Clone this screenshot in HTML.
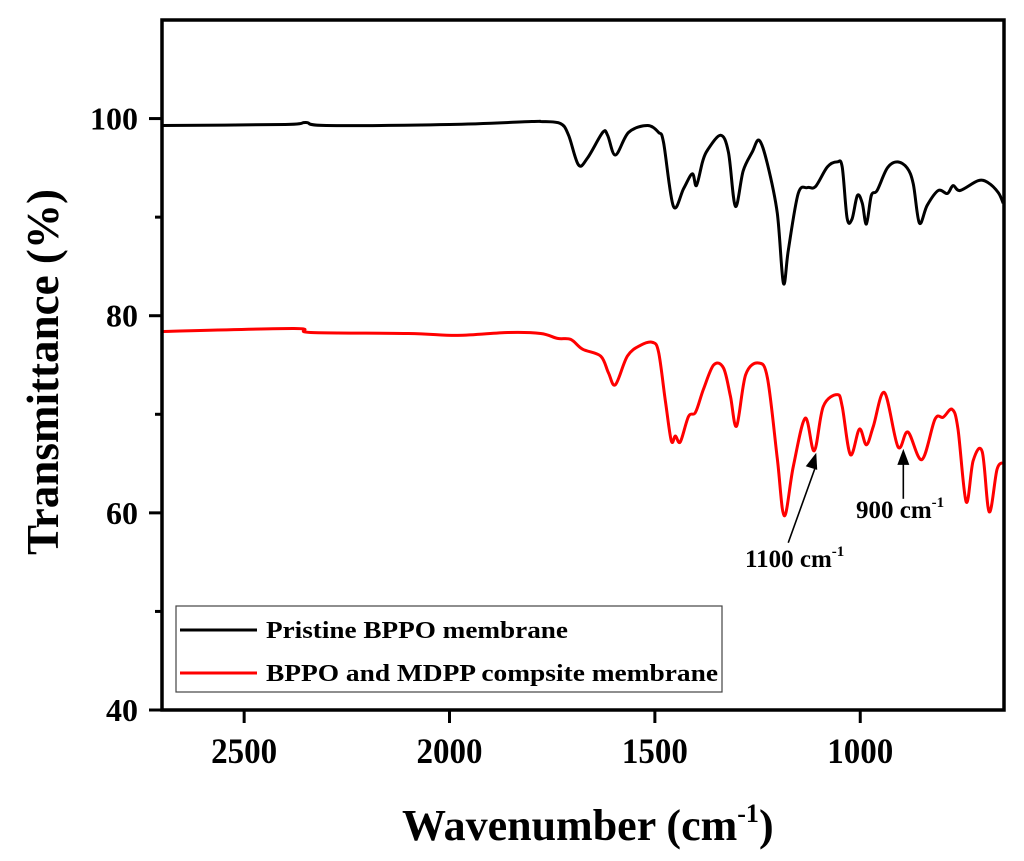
<!DOCTYPE html>
<html><head><meta charset="utf-8"><style>
html,body{margin:0;padding:0;background:#fff;}
svg{display:block;font-family:"Liberation Serif",serif;font-weight:bold;}
</style></head><body>
<svg id="chart" width="1024" height="861" viewBox="0 0 1024 861">
<g id="plot"></g>
</svg>
<script>
const xTicks=[2500,2000,1500,1000];
const xTickLabels=["2500","2000","1500","1000"];
const yTicks=[40,60,80,100];
const yTickLabels=["40","60","80","100"];
const yMinor=[50,70,90];
const pristineX=[2700,2400,2350,2300,2000,1800,1778,1730,1710,1686,1664,1627,1615,1596,1564,1518,1491,1479,1455,1430,1409,1399,1384,1372,1340,1321,1304,1285,1263,1246,1226,1202,1187,1175,1151,1129,1109,1080,1056,1044,1032,1020,1007,995,985,973,959,934,910,886,871,856,837,810,788,774,757,713,689,664,652];
const pristineY=[99.3,99.4,99.6,99.3,99.4,99.7,99.7,99.5,98.3,95.3,96.0,98.6,98.3,96.3,98.6,99.3,98.6,97.6,91.1,92.9,94.4,93.2,95.6,96.8,98.3,96.6,91.1,94.7,96.6,97.8,95.4,90.4,83.3,86.7,92.4,93.0,93.1,95.1,95.6,95.1,89.9,89.8,92.2,91.4,89.3,92.2,92.7,95.0,95.6,95.0,93.4,89.4,91.2,92.7,92.4,93.2,92.7,93.7,93.5,92.5,91.4];
const compositeX=[2700,2379,2338,2100,1980,1858,1778,1737,1705,1676,1632,1613,1596,1567,1535,1506,1491,1474,1460,1450,1438,1418,1401,1382,1357,1333,1316,1301,1279,1248,1226,1202,1185,1163,1134,1112,1090,1056,1044,1024,1002,985,968,941,908,884,850,818,798,776,762,742,725,703,686,667,652];
const compositeY=[78.4,78.7,78.3,78.2,78.0,78.3,78.2,77.7,77.6,76.6,75.9,74.2,73.0,75.9,77.0,77.3,76.3,71.2,67.3,67.8,67.2,69.8,70.2,72.5,75.0,74.7,71.8,68.8,74.0,75.2,73.7,65.5,59.7,64.7,69.6,66.3,70.8,72.0,70.8,65.9,68.5,66.9,68.8,72.2,66.7,68.2,65.4,69.5,69.7,70.5,68.5,61.1,65.3,66.2,60.1,64.4,65.1];
const annX=[1112,900];
const annY=[66.3,66.7];
const annLabels=["1100","900"];

const L=162,R=1004,T=20,B=710,X0=2700,X1=650,Y0=40,Y1=110;
const sx=v=>L+(X0-v)/(X0-X1)*(R-L);
const sy=v=>B-(v-Y0)/(Y1-Y0)*(B-T);
const NS="http://www.w3.org/2000/svg";
const g=document.getElementById('plot');
function mk(tag,attrs,parent){const e=document.createElementNS(NS,tag);for(const k in attrs)e.setAttribute(k,attrs[k]);(parent||g).appendChild(e);return e;}

function series(xs,ys,color,name){
  const P=xs.map((x,i)=>[sx(x),sy(ys[i])]);
  let d='M'+P[0][0].toFixed(1)+','+P[0][1].toFixed(1);
  for(let i=0;i<P.length-1;i++){
    const p0=P[Math.max(0,i-1)],p1=P[i],p2=P[i+1],p3=P[Math.min(P.length-1,i+2)];
    const c1=[p1[0]+(p2[0]-p0[0])/6,p1[1]+(p2[1]-p0[1])/6];
    const c2=[p2[0]-(p3[0]-p1[0])/6,p2[1]-(p3[1]-p1[1])/6];
    d+=' C'+c1.map(v=>v.toFixed(1)).join(',')+' '+c2.map(v=>v.toFixed(1)).join(',')+' '+p2.map(v=>v.toFixed(1)).join(',');
  }
  const p=mk('path',{d:d,fill:'none',stroke:color,'stroke-width':3,'stroke-linejoin':'round'});
  
  
}
series(pristineX,pristineY,'#000','pristine-bppo-line');
series(compositeX,compositeY,'#f00','composite-membrane-line');

const fr=mk('rect',{x:L,y:T,width:R-L,height:B-T,fill:'none',stroke:'#000','stroke-width':3.5});



xTicks.forEach((t,i)=>{
  const tk=mk('line',{x1:sx(t),x2:sx(t),y1:B,y2:B+13,stroke:'#000','stroke-width':3});
  
  
  const tx=mk('text',{x:sx(t),y:763,'text-anchor':'middle','font-size':36,textLength:66,lengthAdjust:'spacingAndGlyphs'});
  tx.textContent=xTickLabels[i];
  
  
});
yTicks.forEach((t,i)=>{
  const tk=mk('line',{x1:L-13,x2:L,y1:sy(t),y2:sy(t),stroke:'#000','stroke-width':3});
  
  
  const tx=mk('text',{x:138,y:sy(t)+11,'text-anchor':'end','font-size':32});
  tx.textContent=yTickLabels[i];
  
  
});
yMinor.forEach(t=>{
  const tk=mk('line',{x1:L-7,x2:L,y1:sy(t),y2:sy(t),stroke:'#000','stroke-width':3});
  
  
});

const annOff=[[-28,90],[0,50]];
const annText=[[745,567],[856,518]];
annX.forEach((w,i)=>{
  const x=sx(w)+2,y=sy(annY[i])+2;
  const tx0=x+annOff[i][0],ty0=y+annOff[i][1];
  const ln=mk('line',{x1:tx0,y1:ty0,x2:x,y2:y+12,stroke:'#000','stroke-width':1.6});
  
  
  const ang=Math.atan2(y-ty0,x-tx0);
  const pts=[[x,y],[x-16*Math.cos(ang)+6*Math.sin(ang),y-16*Math.sin(ang)-6*Math.cos(ang)],[x-16*Math.cos(ang)-6*Math.sin(ang),y-16*Math.sin(ang)+6*Math.cos(ang)]];
  const hd=mk('polygon',{points:pts.map(p=>p.join(',')).join(' '),fill:'#000'});
  
  
  const t=mk('text',{x:annText[i][0],y:annText[i][1],'font-size':25});
  t.innerHTML=annLabels[i]+' cm<tspan dy="-11" font-size="15">-1</tspan>';
  
  
});
</script>
<script>
(function(){
const NS="http://www.w3.org/2000/svg";const s=document.getElementById('chart');
function mk(tag,attrs){const e=document.createElementNS(NS,tag);for(const k in attrs)e.setAttribute(k,attrs[k]);s.appendChild(e);return e;}
const box=mk('rect',{x:176,y:606,width:546,height:86,fill:'#fff',stroke:'#444','stroke-width':1.2});


const l1=mk('line',{x1:180,x2:257,y1:630,y2:630,stroke:'#000','stroke-width':3});


const t1=mk('text',{x:266,y:638,'font-size':24,textLength:302,lengthAdjust:'spacingAndGlyphs'});
t1.textContent='Pristine BPPO membrane';


const l2=mk('line',{x1:180,x2:257,y1:673,y2:673,stroke:'#f00','stroke-width':3});


const t2=mk('text',{x:266,y:681,'font-size':24,textLength:452,lengthAdjust:'spacingAndGlyphs'});
t2.textContent='BPPO and MDPP compsite membrane';


const xt=mk('text',{x:402,y:840,'font-size':44});
xt.innerHTML='Wavenumber (cm<tspan dy="-18" font-size="26">-1</tspan><tspan dy="18">)</tspan>';


const yt=mk('text',{x:0,y:0,'font-size':46,'text-anchor':'middle',transform:'translate(58,372) rotate(-90)',textLength:366,lengthAdjust:'spacingAndGlyphs'});
yt.textContent='Transmittance (%)';


})();
</script>
</body></html>
